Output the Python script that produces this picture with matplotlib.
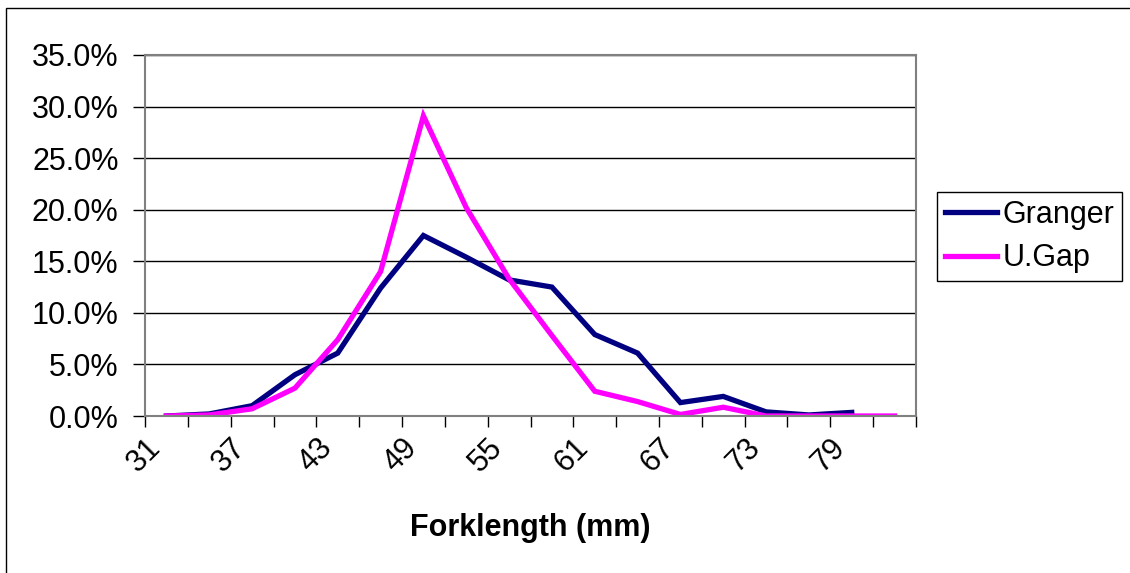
import numpy as np
import matplotlib
matplotlib.use("Agg")
import matplotlib.pyplot as plt
from matplotlib.patches import Rectangle
from matplotlib.ticker import FixedLocator, FuncFormatter

plt.rcParams['font.family'] = ['Liberation Sans', 'DejaVu Sans']

# forklength classes (mm), one every 3 mm
lengths = [31, 34, 37, 40, 43, 46, 49, 52, 55, 58, 61, 64, 67, 70, 73, 76, 79, 82]
granger = [0.0, 0.2, 1.0, 4.0, 6.1, 12.4, 17.5, 15.4, 13.2, 12.5, 7.9, 6.1, 1.3, 1.9, 0.4, 0.1, 0.35, np.nan]
ugap = [0.0, 0.1, 0.7, 2.7, 7.4, 14.0, 29.1, 20.2, 13.3, 7.8, 2.4, 1.4, 0.15, 0.85, 0.0, 0.0, 0.0, 0.0]

W, H = 1130, 573
fig = plt.figure(figsize=(W / 100, H / 100), dpi=100)
fig.patch.set_facecolor("white")

# outer chart border
fig.patches.append(Rectangle((6 / W, -0.02), 1.05, 1 - 8 / H + 0.02, transform=fig.transFigure,
                             fill=False, edgecolor="black", linewidth=1.0))

ax = fig.add_axes([145 / W, 1 - 416 / H, (916 - 145) / W, (416 - 55) / H])

x = np.arange(len(lengths))
ax.plot(x, granger, color="#000080", linewidth=3.8, label="Granger", solid_joinstyle="miter")
ax.plot(x, ugap, color="#FF00FF", linewidth=3.8, label="U.Gap", solid_joinstyle="miter")

ax.set_xlim(-0.5, len(lengths) - 0.5)
ax.set_ylim(0, 35)

# y axis
ax.set_yticks(np.arange(0, 35.1, 5))
ax.yaxis.set_major_formatter(FuncFormatter(lambda v, p: f"{v:.1f}%"))
ax.grid(axis="y", color="black", linewidth=1.0)
ax.set_axisbelow(True)
ax.tick_params(axis="y", direction="out", length=9, width=1, color="black",
               labelsize=22, pad=10)

# x axis: tick marks between categories, labels on every other category
ax.xaxis.set_major_locator(FixedLocator(np.arange(-0.5, len(lengths), 1)))
ax.xaxis.set_major_formatter(FuncFormatter(lambda v, p: ""))
ax.xaxis.set_minor_locator(FixedLocator(x[::2]))
ax.xaxis.set_minor_formatter(FuncFormatter(lambda v, p: str(lengths[int(round(v))])))
ax.tick_params(axis="x", which="major", direction="out", length=8, width=1, color="black")
ax.tick_params(axis="x", which="minor", length=0, labelsize=22, pad=12)
for lbl in ax.xaxis.get_minorticklabels():
    lbl.set_rotation(45)
    lbl.set_ha("right")
    lbl.set_va("top")

for s in ax.spines.values():
    s.set_color("#808080")
    s.set_linewidth(1.5)

fig.text((145 + 916) / 2 / W, 1 - 528 / H, "Forklength (mm)", ha="center", va="center",
         fontsize=22, fontweight="bold")

leg = fig.legend(loc="upper left", bbox_to_anchor=(937 / W, 1 - 192 / H), fontsize=22,
                 frameon=True, fancybox=False, framealpha=1, edgecolor="black",
                 handlelength=1.7, handletextpad=0.2, borderpad=0.25, labelspacing=0.45,
                 borderaxespad=0)
leg.get_frame().set_linewidth(1.0)

fig.savefig("out.png", dpi=100, facecolor="white")
